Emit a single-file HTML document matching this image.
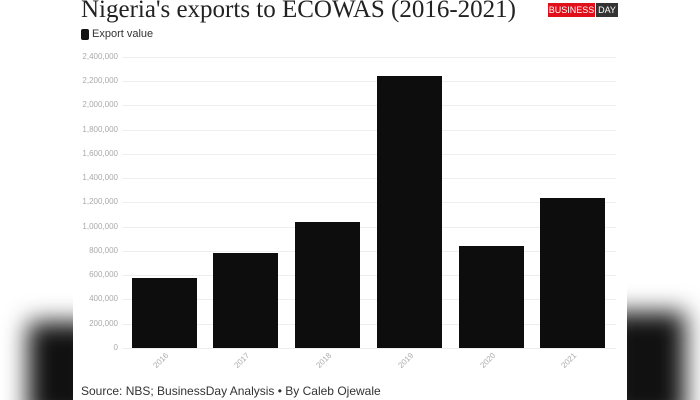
<!DOCTYPE html>
<html style="margin:0;width:700px;height:400px;overflow:hidden"><head><style>
body{margin:0;width:700px;height:400px;overflow:hidden;background:#fff;position:relative;font-family:"Liberation Sans",sans-serif}
.clip{position:absolute;left:0;top:0;width:700px;height:400px;overflow:hidden}
.blob{position:absolute;background:#111;filter:blur(12px)}
.panel{position:absolute;left:73px;top:0;width:554px;height:400px;background:#fff}
.t{position:absolute;white-space:nowrap}
.g{position:absolute;left:122px;width:494px;height:1px;background:#eee}
.yl{position:absolute;right:582px;font-size:8px;color:#aaa;font-family:"Liberation Sans Narrow","Liberation Sans",sans-serif}
.bar{position:absolute;background:#0d0d0d;width:65px;bottom:52px}
.xl{position:absolute;top:356px;font-size:8px;color:#aaa;transform:rotate(-45deg)}
</style></head><body>
<div class="clip">
<div class="blob" style="left:28px;top:322px;width:70px;height:100px"></div>
<div class="blob" style="left:605px;top:312px;width:80px;height:110px"></div>
<div class="panel"></div>
<div class="t" style="left:81px;top:-4px;font-family:'Liberation Serif',serif;font-size:25px;color:#222">Nigeria's exports to ECOWAS (2016-2021)</div>
<div class="t" style="left:548px;top:3px;height:14px;width:47px;background:#e0101a;color:#fff;font-size:9px;line-height:14px;text-align:center;overflow:hidden;font-family:'Liberation Sans Narrow',sans-serif">BUSINESS</div>
<div class="t" style="left:596px;top:3px;height:14px;background:#333;color:#fff;font-size:9px;line-height:14px;width:22px;text-align:center;font-family:'Liberation Sans Narrow',sans-serif">DAY</div>
<div class="t" style="left:81px;top:29px;width:8px;height:11px;background:#111;border-radius:2px"></div>
<div class="t" style="left:92px;top:28px;font-size:11px;color:#333">Export value</div>
<div class="g" style="top:57px"></div><div class="g" style="top:81px"></div><div class="g" style="top:105px"></div><div class="g" style="top:130px"></div><div class="g" style="top:154px"></div><div class="g" style="top:178px"></div><div class="g" style="top:202px"></div><div class="g" style="top:227px"></div><div class="g" style="top:251px"></div><div class="g" style="top:275px"></div><div class="g" style="top:299px"></div><div class="g" style="top:324px"></div><div class="g" style="top:348px"></div>
<div class="yl" style="top:52px">2,400,000</div><div class="yl" style="top:76px">2,200,000</div><div class="yl" style="top:100px">2,000,000</div><div class="yl" style="top:125px">1,800,000</div><div class="yl" style="top:149px">1,600,000</div><div class="yl" style="top:173px">1,400,000</div><div class="yl" style="top:197px">1,200,000</div><div class="yl" style="top:222px">1,000,000</div><div class="yl" style="top:246px">800,000</div><div class="yl" style="top:270px">600,000</div><div class="yl" style="top:294px">400,000</div><div class="yl" style="top:319px">200,000</div><div class="yl" style="top:343px">0</div>
<div class="bar" style="left:132px;top:278px"></div>
<div class="bar" style="left:213px;top:253px"></div>
<div class="bar" style="left:295px;top:222px"></div>
<div class="bar" style="left:377px;top:76px"></div>
<div class="bar" style="left:459px;top:246px"></div>
<div class="bar" style="left:540px;top:198px"></div>
<div class="xl" style="left:152px">2016</div><div class="xl" style="left:233px">2017</div><div class="xl" style="left:315px">2018</div><div class="xl" style="left:397px">2019</div><div class="xl" style="left:479px">2020</div><div class="xl" style="left:560px">2021</div>
<div class="t" style="left:81px;top:384px;font-size:12px;line-height:14px;color:#333;font-family:'Liberation Sans Narrow','Liberation Sans',sans-serif">Source: NBS; BusinessDay Analysis • By Caleb Ojewale</div>
</div>
</body></html>
